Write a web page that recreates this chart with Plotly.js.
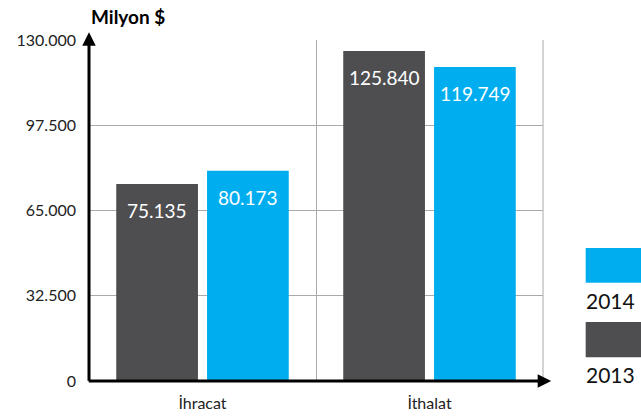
<!DOCTYPE html>
<html><head><meta charset="utf-8">
<script src="https://cdn.plot.ly/plotly-3.0.1.min.js"></script>
<style>html,body{margin:0;padding:0;background:#fff;}#chart{width:641px;height:418px;}</style>
</head><body><div id="chart"></div>
<script>
const categories = ['İhracat', 'İthalat'];
const values2013 = [75135, 125840];
const values2014 = [80173, 119749];
const yTicks = [0, 32500, 65000, 97500, 130000];
const seriesNames = ['2013', '2014'];
const colors = ['#4e4e50', '#00aeef'];
const FONT = 'Lato, "Open Sans", sans-serif';

const fmt = v => v.toLocaleString('de-DE');

const traces = [values2013, values2014].map((vals, i) => ({
  type: 'bar', x: categories, y: vals, name: seriesNames[i],
  marker: {color: colors[i]},
  hoverinfo: 'none', showlegend: false
}));

// value labels inside the bars, anchored to the data values
const valueLabels = [];
[values2013, values2014].forEach((vals, i) => {
  vals.forEach((v, j) => {
    valueLabels.push({
      xref: 'x', yref: 'y', x: categories[j], y: v, xshift: i === 0 ? -45.5 : 45.5, yshift: -13,
      yanchor: 'top', xanchor: 'center', showarrow: false, text: fmt(v),
      font: {size: 19, color: '#ffffff', family: FONT}
    });
  });
});

const layout = {
  width: 641, height: 418,
  margin: {l: 89, r: 98, t: 40, b: 37},
  paper_bgcolor: '#fff', plot_bgcolor: '#fff',
  separators: ',.',
  barmode: 'group', bargap: 0.2, bargroupgap: 0.1,
  font: {family: FONT, color: '#222', size: 15},
  xaxis: {
    tickson: 'boundaries', showgrid: true, gridcolor: '#aaaaaa', gridwidth: 1,
    ticks: '', showline: false, zeroline: false,
    tickfont: {size: 16, color: '#222'}, ticklabelstandoff: 11
  },
  yaxis: {
    range: [0, 130000], tickvals: yTicks, ticktext: yTicks.map(fmt),
    showgrid: true, gridcolor: '#aaaaaa', gridwidth: 1, zeroline: false, showline: false,
    ticks: '', tickfont: {size: 16, color: '#222'}, ticklabelstandoff: 12
  },
  shapes: [
    {type: 'line', xref: 'paper', yref: 'paper', x0: 1, x1: 1, y0: 0, y1: 1, line: {color: '#aaaaaa', width: 1}},
    {type: 'rect', xref: 'paper', yref: 'paper', x0: 1.094, x1: 1.22, y0: 0.288, y1: 0.39, fillcolor: colors[1], line: {width: 0}},
    {type: 'rect', xref: 'paper', yref: 'paper', x0: 1.094, x1: 1.22, y0: 0.07, y1: 0.173, fillcolor: colors[0], line: {width: 0}}
  ],
  annotations: valueLabels.concat([
    {xref: 'paper', yref: 'paper', x: 0, y: 1.023, ax: 0, ay: 350, axref: 'pixel', ayref: 'pixel',
     text: '', showarrow: true, arrowhead: 2, arrowsize: 0.9, arrowwidth: 3, arrowcolor: '#000'},
    {xref: 'paper', yref: 'paper', x: 1.018, y: 0, ax: -464, ay: 0,
     text: '', showarrow: true, arrowhead: 2, arrowsize: 0.9, arrowwidth: 3, arrowcolor: '#000'},
    {xref: 'paper', yref: 'paper', x: 0.0, y: 1.028, xanchor: 'left', yanchor: 'bottom', showarrow: false,
     text: '<b>Milyon $</b>', font: {size: 19, color: '#000', family: FONT}},
    {xref: 'paper', yref: 'paper', x: 1.09, y: 0.28, xanchor: 'left', yanchor: 'top', showarrow: false,
     text: seriesNames[1], font: {size: 21, color: '#111', family: FONT}},
    {xref: 'paper', yref: 'paper', x: 1.09, y: 0.062, xanchor: 'left', yanchor: 'top', showarrow: false,
     text: seriesNames[0], font: {size: 21, color: '#111', family: FONT}}
  ])
};

Plotly.newPlot('chart', traces, layout, {staticPlot: true, displayModeBar: false});
</script></body></html>
